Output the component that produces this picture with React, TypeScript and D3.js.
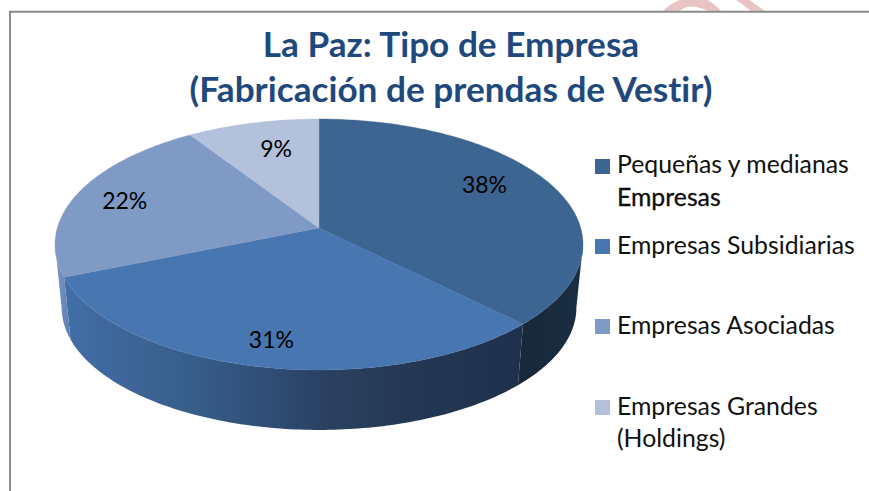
import React from "react";
import * as d3 from "d3";

const titleLines = ["La Paz: Tipo de Empresa", "(Fabricación de prendas de Vestir)"];
const categories = ["Pequeñas y medianas Empresas", "Empresas Subsidiarias", "Empresas Asociadas", "Empresas Grandes (Holdings)"];
const values = [37.5, 31.3, 22, 9.2];
const topColors = ["#3c6591", "#4876b1", "#7e9ac5", "#b3c1dc"];

const W = 869, H = 491;
const cx = 319, cy = 228;
const R = 261.7, Rb = 123.3, P = 0.1315, shrink = 0.975, depth = 63.5;
const FONT = "Lato, 'Open Sans', sans-serif";

const project = (theta: number, f = 1): [number, number] => {
  const X = Math.sin(theta) * f, Y = -Math.cos(theta) * f;
  const w = 1 - P * Y;
  return [cx + (R * X) / w, cy + (Rb * Y) / w];
};
const lower = ([x, y]: [number, number]): [number, number] => [
  cx + (x - cx) * shrink,
  cy + (y - cy) * shrink + depth,
];
const arcPts = (a: number, b: number): [number, number][] => {
  const n = Math.max(2, Math.ceil((b - a) * 60));
  return d3.range(n + 1).map((i) => project(a + ((b - a) * i) / n));
};
const line = d3.line<[number, number]>();

// Angles at which the projected rim reaches its right and left extremes: the wall is only visible between them.
const sweep = d3.range(0, 2 * Math.PI, 0.002);
const thetaRight = sweep[d3.greatestIndex(sweep, (t) => project(t)[0])];
const thetaLeft = sweep[d3.leastIndex(sweep, (t) => project(t)[0])];

const labelNudge: [number, number][] = [[2, -11], [-8, 19], [-24, -2], [5, -3]];
const legendRows = [
  { y: 159, lines: ["Pequeñas y medianas", "Empresas"], base: [173, 206] },
  { y: 239, lines: ["Empresas Subsidiarias"], base: [254] },
  { y: 319, lines: ["Empresas Asociadas"], base: [334] },
  { y: 400, lines: ["Empresas Grandes", "(Holdings)"], base: [415, 447] },
];

export default function App() {
  const arcs = d3.pie<number>().sort(null)(values);
  return (
    <svg width={W} height={H} viewBox={`0 0 ${W} ${H}`} style={{ position: "absolute", left: 0, top: 0, background: "#fff", fontVariantLigatures: "none" }}>
      <defs>
        <linearGradient id="w0" gradientUnits="userSpaceOnUse" x1={515} x2={585} y1={0} y2={0}>
          <stop offset="0" stopColor="#172839" />
          <stop offset="1" stopColor="#1a2d42" />
        </linearGradient>
        <linearGradient id="w1" gradientUnits="userSpaceOnUse" x1={64} x2={525} y1={0} y2={0}>
          <stop offset="0" stopColor="#426fa8" />
          <stop offset="0.12" stopColor="#3e6699" />
          <stop offset="0.3" stopColor="#365c88" />
          <stop offset="0.45" stopColor="#2f4c74" />
          <stop offset="0.56" stopColor="#2a4262" />
          <stop offset="0.72" stopColor="#243955" />
          <stop offset="1" stopColor="#1f304c" />
        </linearGradient>
        <linearGradient id="w2" gradientUnits="userSpaceOnUse" x1={55} x2={68} y1={0} y2={0}>
          <stop offset="0" stopColor="#7f9ac4" />
          <stop offset="1" stopColor="#5f82b5" />
        </linearGradient>
        <clipPath id="wm"><rect x={600} y={0} width={269} height={11} /></clipPath>
      </defs>

      <g clipPath="url(#wm)" fill="#eac4c4">
        <path d="M663 11 C672 2 684 -3 695 -3 C706 -3 714 3 721 11 L708 11 C702 8 696 6.5 691 6.5 C687 6.5 683 8 680 11 Z" />
        <path d="M735 -1 L748 -1 L765 11 L751 11 Z" />
      </g>

      <path d="M10 491 V11.8 H869" fill="none" stroke="#8c8c8c" strokeWidth={2} />

      <g fontFamily={FONT} fontWeight={700} fontSize={35.2} fill="#1f497d" textAnchor="middle">
        <text x={451} y={57}>{titleLines[0]}</text>
        <text x={451} y={102}>{titleLines[1]}</text>
      </g>

      <g>
        {arcs.map((a, i) => {
          const s = Math.max(a.startAngle, thetaRight), e = Math.min(a.endAngle, thetaLeft);
          if (e <= s) return null;
          const top = arcPts(s, e);
          const bot = top.map(lower).reverse();
          return <path key={i} d={(line(top.concat(bot)) ?? "") + "Z"} fill={`url(#w${i})`} />;
        })}
        {arcs.map((a, i) => {
          const pts = arcPts(a.startAngle, a.endAngle);
          return <path key={i} d={(line([[cx, cy], ...pts]) ?? "") + "Z"} fill={topColors[i]} stroke={topColors[i]} strokeWidth={0.4} />;
        })}
      </g>

      <g fontFamily={FONT} fontSize={23} fill="#000" textAnchor="middle">
        {arcs.map((a, i) => {
          const [x, y] = project((a.startAngle + a.endAngle) / 2, 0.7);
          return <text key={i} x={x + labelNudge[i][0]} y={y + labelNudge[i][1] + 8}>{`${Math.round(values[i])}%`}</text>;
        })}
      </g>

      <g fontFamily={FONT} fontSize={24.8} fill="#111">
        {legendRows.map((r, i) => (
          <g key={categories[i]}>
            <rect x={595} y={r.y} width={15} height={15} fill={topColors[i]} />
            {r.lines.map((t, j) => (
              <text key={j} x={617} y={r.base[j]} stroke={i === 0 && j === 1 ? "#000" : "none"} strokeWidth={0.3}>{t}</text>
            ))}
          </g>
        ))}
      </g>
    </svg>
  );
}
